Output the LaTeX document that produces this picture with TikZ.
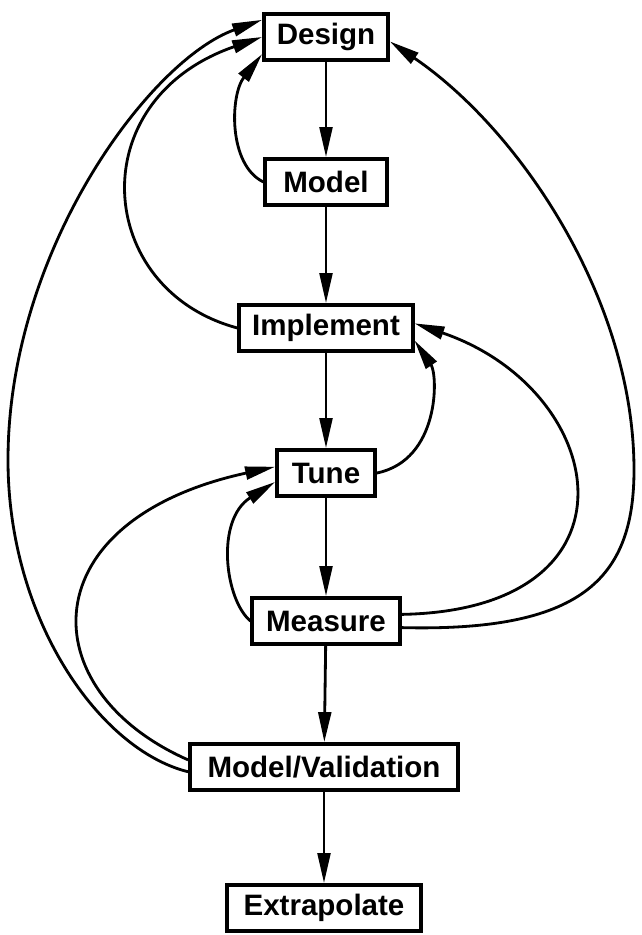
\documentclass[tikz,border=0pt]{standalone}
\usepackage{fontspec}
\setmainfont{Liberation Sans}
\usetikzlibrary{arrows.meta}

\begin{document}
\begin{tikzpicture}[x=0.025cm,y=-0.025cm,
  box/.style={draw,line width=2.7pt,minimum height=1.15cm,inner sep=0pt,
    font=\fontsize{21}{24}\selectfont\bfseries},
  flow/.style={line width=2pt,-{Triangle[length=7.5mm,width=3.2mm]}}]
  \useasboundingbox (0,0) rectangle (641,935);
  % boxes down the middle
  \node[box,minimum width=3.1cm] (design) at (326,37) {Design};
  \node[box,minimum width=3.03cm] (model) at (326,182) {Model};
  \node[box,minimum width=4.33cm] (implement) at (326,328) {Implement};
  \node[box,minimum width=2.45cm] (tune) at (326,473) {Tune};
  \node[box,minimum width=3.68cm] (measure) at (326,621) {Measure};
  \node[box,minimum width=6.7cm] (modval) at (324,767) {Model/Validation};
  \node[box,minimum width=4.85cm] (extrap) at (324,908) {Extrapolate};
  % straight chain
  \foreach \a/\b in {design/model,model/implement,implement/tune,tune/measure,measure/modval,modval/extrap}
    { \draw[flow] (\a) -- (\b); }
  % left side, back to design
  \draw[flow] (model.west) .. controls (228,165) and (230,95) .. (design.195);
  \draw[flow] (implement.west) .. controls (95,290) and (80,100) .. (design.west);
  \draw[flow] (modval.182) .. controls (100,750) and (8,620) .. (8,460)
                            .. controls (8,250) and (150,60) .. (design.165);
  % left side, back to tune
  \draw[flow] (modval.177) .. controls (30,690) and (30,520) .. (tune.173);
  \draw[flow] (measure.west) .. controls (225,600) and (215,520) .. (tune.190);
  % right side
  \draw[flow] (tune.east) .. controls (440,460) and (438,375) .. (implement.-8);
  \draw[flow] (measure.5) .. controls (650,610) and (610,390) .. (implement.3);
  \draw[flow] (measure.-5) .. controls (580,632) and (634,580) .. (634,470)
                            .. controls (634,300) and (520,130) .. (design.-4);
\end{tikzpicture}
\end{document}
